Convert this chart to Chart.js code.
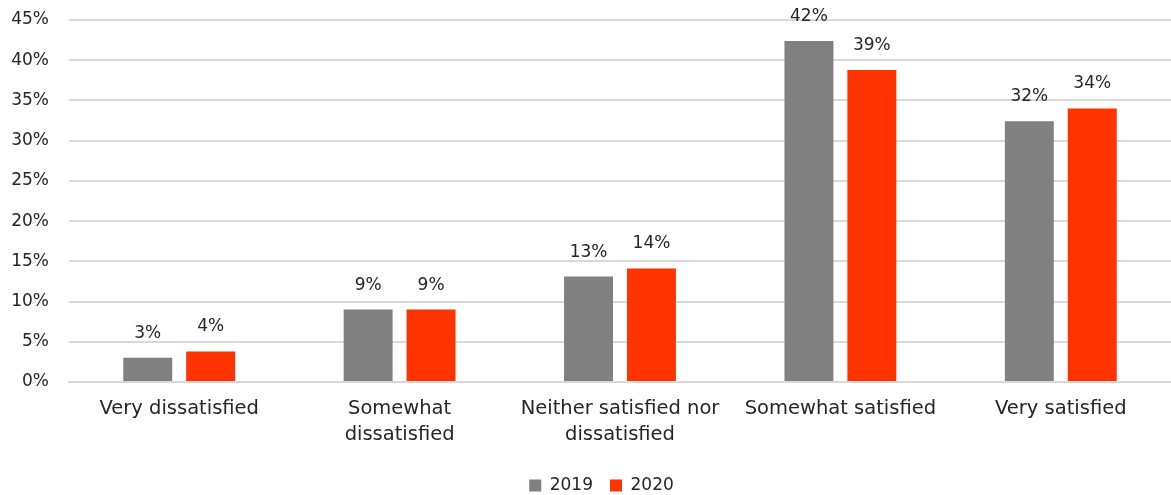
<!DOCTYPE html>
<html>
<head>
<meta charset="utf-8">
<script src="https://cdn.jsdelivr.net/npm/chart.js@4/dist/chart.umd.min.js"></script>
<style>
  html, body { margin: 0; padding: 0; background: #ffffff; }
  #wrap { width: 1171px; height: 495px; position: relative; }
</style>
</head>
<body>
<div id="wrap"><canvas id="chart"></canvas></div>
<script>
// Satisfaction survey, share of respondents per answer
const categories = [
  'Very dissatisfied',
  ['Somewhat', 'dissatisfied'],
  ['Neither satisfied nor', 'dissatisfied'],
  'Somewhat satisfied',
  'Very satisfied'
];
const seriesNames = ['2019', '2020'];
const values2019 = [3.0, 9.0, 13.1, 42.4, 32.4];
const values2020 = [3.8, 9.0, 14.1, 38.8, 34.0];
const yTicks = [0, 5, 10, 15, 20, 25, 30, 35, 40, 45];

const FONT = '"DejaVu Sans", "Open Sans", sans-serif';
const TEXT = '#262626';

// Writes each bar's rounded percentage just above it
const barValueLabels = {
  id: 'barValueLabels',
  afterDatasetsDraw(chart) {
    const ctx = chart.ctx;
    ctx.save();
    ctx.font = '17px ' + FONT;
    ctx.fillStyle = TEXT;
    ctx.textAlign = 'center';
    ctx.textBaseline = 'bottom';
    chart.data.datasets.forEach((ds, i) => {
      const meta = chart.getDatasetMeta(i);
      meta.data.forEach((bar, j) => {
        ctx.fillText(Math.round(ds.data[j]) + '%', bar.x, bar.y - 16);
      });
    });
    ctx.restore();
  }
};

// Nudges the legend a little to the right of the canvas centre
const legendOffset = {
  id: 'legendOffset',
  afterLayout(chart) {
    const lg = chart.legend;
    if (lg) { lg.left += 12; lg.right += 12; }
  }
};

new Chart(document.getElementById('chart'), {
  type: 'bar',
  data: {
    labels: categories,
    datasets: [
      { label: seriesNames[0], data: values2019, backgroundColor: '#808080' },
      { label: seriesNames[1], data: values2020, backgroundColor: '#ff3300' }
    ]
  },
  options: {
    responsive: true,
    maintainAspectRatio: false,
    animation: false,
    layout: { padding: { top: 20, right: 0, bottom: -9, left: 8 } },
    datasets: { bar: { categoryPercentage: 0.571, barPercentage: 0.778 } },
    plugins: {
      legend: {
        position: 'bottom',
        labels: {
          font: { family: FONT, size: 17 },
          color: TEXT,
          boxWidth: 12,
          boxHeight: 12,
          padding: 17
        }
      },
      tooltip: { enabled: false }
    },
    scales: {
      x: {
        grid: { display: false },
        border: { display: true, color: '#d9d9d9', width: 2 },
        ticks: {
          font: { family: FONT, size: 19.5, lineHeight: 1.34 },
          color: TEXT,
          padding: 6,
          maxRotation: 0,
          autoSkip: false
        },
        afterFit(scale) {
          scale.height = 78;
          scale.paddingLeft = 0;
          scale.paddingRight = 0;
        }
      },
      y: {
        min: 0,
        max: 45,
        afterBuildTicks(scale) { scale.ticks = yTicks.map(v => ({ value: v })); },
        grid: { color: '#d9d9d9', lineWidth: 2, drawTicks: false },
        border: { display: false },
        ticks: {
          font: { family: FONT, size: 17 },
          color: TEXT,
          padding: 20,
          callback: v => v + '%'
        },
        afterFit(scale) {
          scale.width = 61;
          scale.paddingTop = 0;
          scale.paddingBottom = 0;
        }
      }
    }
  },
  plugins: [barValueLabels, legendOffset]
});
</script>
</body>
</html>
